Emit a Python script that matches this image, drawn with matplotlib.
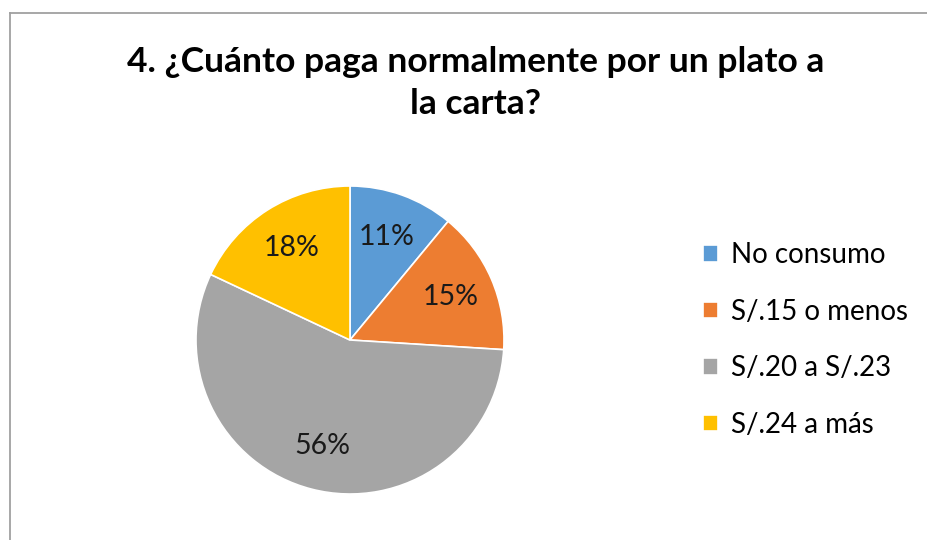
import matplotlib
matplotlib.use("Agg")
import matplotlib.pyplot as plt
from matplotlib.lines import Line2D

categorias = ["No consumo", "S/.15 o menos", "S/.20 a S/.23", "S/.24 a más"]
porcentajes = [11, 15, 56, 18]
colores = ["#5B9BD5", "#ED7D31", "#A5A5A5", "#FFC000"]
titulo = "4. ¿Cuánto paga normalmente por un plato a\nla carta?"

plt.rcParams["font.family"] = ["Lato", "DejaVu Sans"]

W, H = 928, 540
fig = plt.figure(figsize=(W / 100, H / 100), dpi=100)

# marco gris (solo se ven borde superior e izquierdo)
x0, ytop = 10.5 / W, 1 - 13 / H
fig.lines.append(Line2D([x0, 1.0], [ytop, ytop], transform=fig.transFigure,
                        color="#A0A0A0", linewidth=1.3))
fig.lines.append(Line2D([x0, x0], [0.0, ytop], transform=fig.transFigure,
                        color="#A0A0A0", linewidth=1.3))

fig.text(476 / W, 1 - 83 / H, titulo, ha="center", va="center",
         fontsize=25.5, fontweight="bold", linespacing=1.38)

r = 154
cx, cy = 350, 340
ax = fig.add_axes([(cx - r) / W, (H - cy - r) / H, 2 * r / W, 2 * r / H])
wedges, textos, autotextos = ax.pie(
    porcentajes, colors=colores, startangle=90, counterclock=False,
    autopct=lambda p: "%d%%" % round(p), pctdistance=0.71,
    wedgeprops=dict(edgecolor="white", linewidth=1.2),
    textprops=dict(fontsize=20.5, color="#1a1a1a"))
ax.set_xlim(-1, 1)
ax.set_ylim(-1, 1)
ax.set_aspect("equal")

fig.legend(wedges, categorias, loc="center left",
           bbox_to_anchor=(678 / W, 1 - 340 / H), frameon=False,
           fontsize=20, handlelength=0.55, handleheight=0.55,
           handletextpad=0.45, labelspacing=1.1)

plt.savefig("out.png", dpi=100)
